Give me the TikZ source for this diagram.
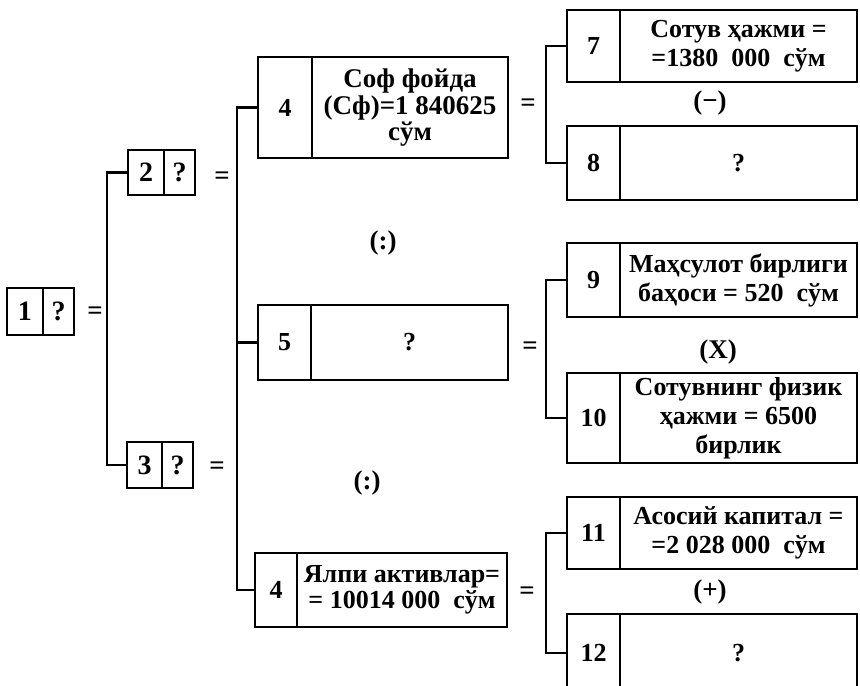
\documentclass[tikz,border=0pt]{standalone}
\usepackage{fontspec}
\setmainfont{Liberation Serif}
\usetikzlibrary{positioning}
\tikzset{
  cell/.style={draw, line width=1.1pt, outer sep=0pt, inner sep=1pt, align=center,
    font=\fontsize{13}{14.5}\selectfont\bfseries},
  op/.style={font=\fontsize{13.5}{14.5}\selectfont\bfseries, inner sep=1pt},
  conn/.style={line width=1.1pt}
}
\begin{document}
\begin{tikzpicture}[x=0.5pt, y=-0.5pt]
    \clip (0,0) rectangle (860,685);
    % left column
    \node[cell, minimum width=18pt, minimum height=23.5pt, font=\fontsize{14}{15}\selectfont\bfseries] (n1) at (25,311.5) {1};
    \node[cell, minimum width=15.5pt, minimum height=23.5pt, right=0pt of n1, font=\fontsize{14}{15}\selectfont\bfseries] (q1) {?};
    \node[cell, minimum width=18pt, minimum height=22.5pt, font=\fontsize{14}{15}\selectfont\bfseries] (n2) at (146,172.5) {2};
    \node[cell, minimum width=15.5pt, minimum height=22.5pt, right=0pt of n2, font=\fontsize{14}{15}\selectfont\bfseries] (q2) {?};
    \node[cell, minimum width=17.5pt, minimum height=23pt, font=\fontsize{14}{15}\selectfont\bfseries] (n3) at (144.5,465) {3};
    \node[cell, minimum width=15.5pt, minimum height=23pt, right=0pt of n3, font=\fontsize{14}{15}\selectfont\bfseries] (q3) {?};
    \node[op] (eq1) at (95,313) {=};
    \node[op] (eq2) at (222,178) {=};
    \node[op] (eq3) at (217,468) {=};
    \draw[conn] (n2.west) -- ++(-21,0) |- (n3.west);

    % middle column
    \node[cell, minimum width=27pt, minimum height=50.5pt] (n4) at (285,107.5) {4};
    \node[cell, minimum width=98pt, minimum height=50.5pt, right=0pt of n4,
      font=\fontsize{13.5}{12}\selectfont\bfseries] (t4) {Соф фойда\\(Сф)=1 840625\\сўм};
    \node[cell, minimum width=26.5pt, minimum height=37.5pt] (n5) at (284.5,342.5) {5};
    \node[cell, minimum width=98.5pt, minimum height=37.5pt, right=0pt of n5] (t5) {?};
    \node[cell, minimum width=21pt, minimum height=37pt] (n6) at (276,590) {4};
    \node[cell, minimum width=105pt, minimum height=37pt, right=0pt of n6,
      font=\fontsize{13}{13}\selectfont\bfseries] (t6) {Ялпи активлар=\\= 10014 000 \ сўм};
    \draw[conn] (n4.west) -- ++(-21,0) |- (n6.west);
    \draw[conn] (n5.west) -- ++(-21,0);
    \node[op] (eq4) at (528,105) {=};
    \node[op] (eq5) at (530,348) {=};
    \node[op] (eq6) at (527,593) {=};
    \node[op] (div1) at (383,243) {(:)};
    \node[op] (div2) at (367,483) {(:)};

    % right column
    \foreach \k/\y/\h/\txt in {7/46/36/{Сотув ҳажми =\\=1380 \ 000 \ сўм}, 8/163/37/?,
        9/280/37/{Маҳсулот бирлиги\\баҳоси = 520 \ сўм},
        10/418/45/{Сотувнинг физик\\ҳажми = 6500\\бирлик},
        11/533/36/{Асосий капитал =\\=2 028 000 \ сўм}, 12/653/39/?} {
        \node[cell, minimum width=26.5pt, minimum height=\h pt] (n\k) at (593.5,\y) {\k};
        \node[cell, minimum width=118.5pt, minimum height=\h pt, right=0pt of n\k] (t\k) {\txt};
    }
    \draw[conn] (n7.west) -- ++(-21,0) |- (n8.west);
    \draw[conn] (n9.west) -- ++(-21,0) |- (n10.west);
    \draw[conn] (n11.west) -- ++(-21,0) |- (n12.west);
    \node[op] (minus) at (710,103) {(−)};
    \node[op] (times) at (718,352) {(X)};
    \node[op] (plus) at (710,592) {(+)};
\end{tikzpicture}
\end{document}
